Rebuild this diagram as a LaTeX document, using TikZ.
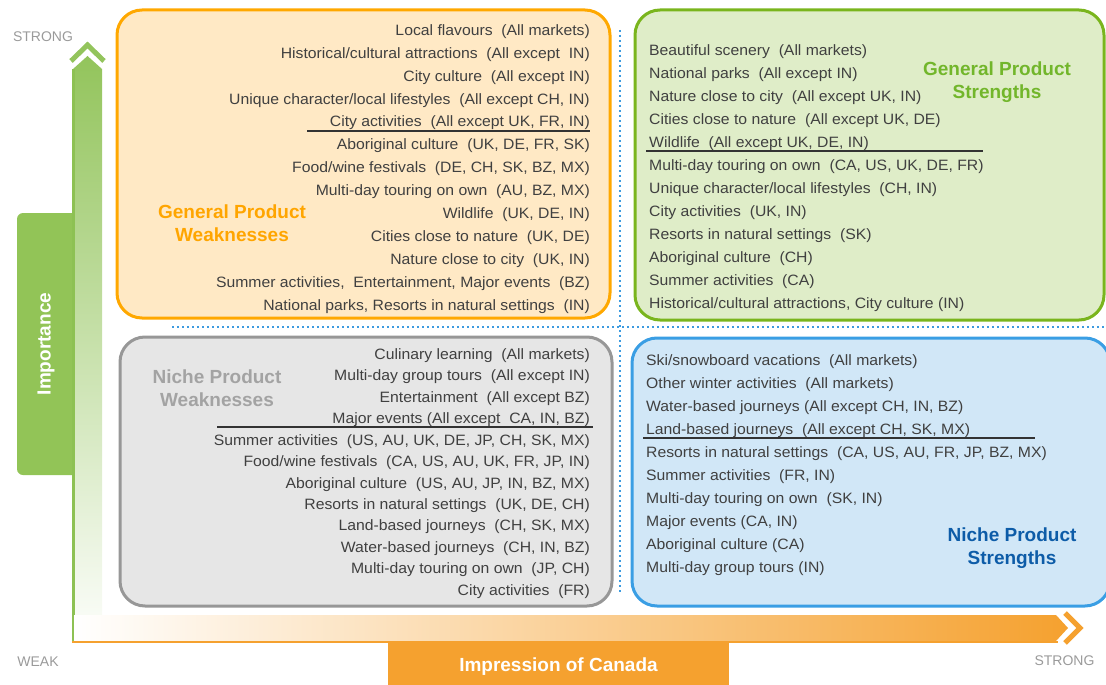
\documentclass[tikz,border=0pt]{standalone}
\usepackage{fontspec}
\setmainfont{Liberation Sans}
\newfontfamily\itemfont{Liberation Sans}[FakeStretch=1.05]
\definecolor{txt}{HTML}{404040}
\definecolor{axgray}{HTML}{9A9A9A}
\definecolor{wkline}{HTML}{FFA800}
\definecolor{wkfill}{HTML}{FFE9C5}
\definecolor{wktitle}{HTML}{FFA500}
\definecolor{stline}{HTML}{7AB51D}
\definecolor{stfill}{HTML}{DFEDC8}
\definecolor{sttitle}{HTML}{72B62B}
\definecolor{nwline}{HTML}{979797}
\definecolor{nwfill}{HTML}{E6E6E6}
\definecolor{nwtitle}{HTML}{A3A3A3}
\definecolor{nsline}{HTML}{3A9EE4}
\definecolor{nsfill}{HTML}{D1E7F7}
\definecolor{nstitle}{HTML}{0D5CA8}
\definecolor{dotblue}{HTML}{3C9BE0}
\definecolor{imgreen}{HTML}{8DC153}
\definecolor{tabgreen}{HTML}{92C457}
\definecolor{canorange}{HTML}{F5A12F}
\begin{document}
\begin{tikzpicture}[x=1pt,y=-1pt,
    item/.style={inner sep=0pt,text=txt,font=\itemfont\fontsize{15}{18}\selectfont},
    title/.style={align=center,inner sep=0pt,font=\bfseries\fontsize{19}{23}\selectfont},
    quad/.style={rounded corners=25pt,line width=3pt},
    axlabel/.style={inner sep=0pt,text=axgray,font=\fontsize{14}{17}\selectfont},
    dots/.style={dotblue,line width=2pt,dash pattern=on 2pt off 3pt}]
    \useasboundingbox (0,0) rectangle (1106,685);

    % axes
    \fill[tabgreen,rounded corners=6pt] (85,213) rectangle (17,475);
    \shade[top color=imgreen!95,bottom color=imgreen!6] (73,615) -- (73,69) -- (87.5,56) -- (102,69) -- (102,615) -- cycle;
    \draw[imgreen,line width=3pt] (73,69) -- (73,643);
    \draw[imgreen!95,line width=5pt,miter limit=4] (71,61) -- (87.5,45) -- (104,61);
    \node[rotate=90,text=white,font=\bfseries\fontsize{19}{23}\selectfont] (importance) at (46,344) {Importance};
    \shade[left color=white,right color=canorange] (74,615) -- (1056,615) -- (1068,628) -- (1056,641) -- (74,641) -- cycle;
    \draw[canorange,line width=2pt] (72,642) -- (1058,642);
    \draw[canorange,line width=5pt,miter limit=4] (1065,613) -- (1080,628) -- (1065,643);
    \node[fill=canorange,minimum width=341pt,minimum height=44pt,inner sep=0pt,text=white,
        text height=17.6pt,text depth=0pt,
        font=\bfseries\fontsize{19}{23}\selectfont] (impression) at (558.5,663) {Impression of Canada};
    \node[axlabel] (strongy) at (43,37) {STRONG};
    \node[axlabel] (weak) at (38,662) {WEAK};
    \node[axlabel] (strongx) at (1064.5,661) {STRONG};

    \draw[dots] (172,327) -- (1106,327);
    \draw[dots] (620,30) -- (620,592);

    % quadrants
    \draw[quad,wkline,fill=wkfill] (117,10) rectangle (610,318);
    \draw[quad,stline,fill=stfill] (635,10) rectangle (1104,320);
    \draw[quad,nwline,fill=nwfill] (120,337) rectangle (612,606);
    \draw[quad,nsline,fill=nsfill] (632,338) rectangle (1110,606);

    \node[title,text=wktitle] (gwtitle) at (232,223) {General Product\\Weaknesses};
    \node[title,text=sttitle] (gstitle) at (997,82) {General Product\\Strengths};
    \node[title,text=nwtitle] (nwtitle) at (217,388) {Niche Product\\Weaknesses};
    \node[title,text=nstitle] (nstitle) at (1012,548) {Niche Product\\Strengths};

    \foreach \t [count=\i] in {{Local flavours~ (All markets)},
        {Historical/cultural attractions~ (All except~ IN)},
        {City culture~ (All except IN)},
        {Unique character/local lifestyles~ (All except CH, IN)},
        {City activities~ (All except UK, FR, IN)},
        {Aboriginal culture~ (UK, DE, FR, SK)},
        {Food/wine festivals~ (DE, CH, SK, BZ, MX)},
        {Multi-day touring on own~ (AU, BZ, MX)},
        {Wildlife~ (UK, DE, IN)},
        {Cities close to nature~ (UK, DE)},
        {Nature close to city~ (UK, IN)},
        {Summer activities,~ Entertainment, Major events~ (BZ)},
        {National parks, Resorts in natural settings~ (IN)}}{
        \node[item,anchor=east] (gw\i) at (590,{31.5+(\i-1)*22.9}) {\t};
    }
    \foreach \t [count=\i] in {{Beautiful scenery~ (All markets)},
        {National parks~ (All except IN)},
        {Nature close to city~ (All except UK, IN)},
        {Cities close to nature~ (All except UK, DE)},
        {Wildlife~ (All except UK, DE, IN)},
        {Multi-day touring on own~ (CA, US, UK, DE, FR)},
        {Unique character/local lifestyles~ (CH, IN)},
        {City activities~ (UK, IN)},
        {Resorts in natural settings~ (SK)},
        {Aboriginal culture~ (CH)},
        {Summer activities~ (CA)},
        {Historical/cultural attractions, City culture (IN)}}{
        \node[item,anchor=west] (gs\i) at (649,{51.5+(\i-1)*23}) {\t};
    }
    \foreach \t [count=\i] in {{Culinary learning~ (All markets)},
        {Multi-day group tours~ (All except IN)},
        {Entertainment~ (All except BZ)},
        {Major events (All except~ CA, IN, BZ)},
        {Summer activities~ (US, AU, UK, DE, JP, CH, SK, MX)},
        {Food/wine festivals~ (CA, US, AU, UK, FR, JP, IN)},
        {Aboriginal culture~ (US, AU, JP, IN, BZ, MX)},
        {Resorts in natural settings~ (UK, DE, CH)},
        {Land-based journeys~ (CH, SK, MX)},
        {Water-based journeys~ (CH, IN, BZ)},
        {Multi-day touring on own~ (JP, CH)},
        {City activities~ (FR)}}{
        \node[item,anchor=east] (nw\i) at (590,{355.5+(\i-1)*21.45}) {\t};
    }
    \foreach \t [count=\i] in {{Ski/snowboard vacations~ (All markets)},
        {Other winter activities~ (All markets)},
        {Water-based journeys (All except CH, IN, BZ)},
        {Land-based journeys~ (All except CH, SK, MX)},
        {Resorts in natural settings~ (CA, US, AU, FR, JP, BZ, MX)},
        {Summer activities~ (FR, IN)},
        {Multi-day touring on own~ (SK, IN)},
        {Major events (CA, IN)},
        {Aboriginal culture (CA)},
        {Multi-day group tours (IN)}}{
        \node[item,anchor=west] (ns\i) at (646,{361.5+(\i-1)*23}) {\t};
    }

    \draw[txt!80!black,line width=1.2pt] (307,131) -- (590,131);
    \draw[txt!80!black,line width=1.2pt] (646,151) -- (983,151);
    \draw[txt!80!black,line width=1.2pt] (217,427) -- (593,427);
    \draw[txt!80!black,line width=1.2pt] (643,438) -- (1035,438);
\end{tikzpicture}
\end{document}
